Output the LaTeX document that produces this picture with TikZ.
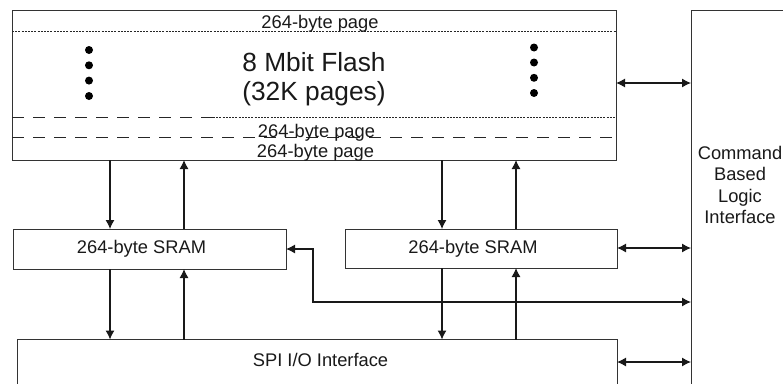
\documentclass[tikz,border=0pt]{standalone}
\usepackage{fontspec}
\setmainfont{Liberation Sans}
\usetikzlibrary{arrows.meta}
\begin{document}
\begin{tikzpicture}[x=1pt,y=-1pt,
  box/.style={draw=black!80, line width=1pt, inner sep=0pt, outer sep=0pt, rectangle},
  lbl/.style={font=\fontsize{18.3}{21.3}\selectfont, inner sep=0pt, text=black!90},
  big/.style={font=\fontsize{26.3}{29}\selectfont, inner sep=0pt, text=black!90},
  conn/.style={line width=1.1pt, draw=black!90},
  arr/.style={conn, -{Latex[length=9pt,width=9pt]}},
  darr/.style={conn, {Latex[length=9pt,width=9pt]}-{Latex[length=9pt,width=9pt]}},
  fine/.style={line width=0.8pt, draw=black!85, dash pattern=on 2pt off 1.2pt},
  longdash/.style={line width=0.8pt, draw=black!85, dash pattern=on 12pt off 9pt},
  blob/.style={circle, fill=black, inner sep=0pt, minimum size=8pt}
]
\useasboundingbox (0,0) rectangle (783,383);
\clip (0,0) rectangle (783,383);

% boxes
\node[box, minimum width=604pt, minimum height=150pt] (flash) at (314,85) {};
\node[box, minimum width=273pt, minimum height=40pt] (sram1) at (149.5,249) {};
\node[box, minimum width=272pt, minimum height=39pt] (sram2) at (481,248.5) {};
\node[box, minimum width=599.5pt, minimum height=55.5pt] (spi) at (317.25,367.25) {};
\node[box, minimum width=109pt, minimum height=390pt] (cmd) at (745.5,205) {};

% page separators inside flash
\draw[fine] (12,31.5) -- (616,31.5);
\draw[longdash] (12,117) -- (213,117);
\draw[fine] (213,117) -- (616,117);
\draw[longdash] (12,137) -- (616,137);

% labels
\node[lbl, anchor=base] (p1) at (320,28) {264-byte page};
\node[lbl, anchor=base] (p2) at (316.5,137) {264-byte page};
\node[lbl, anchor=base] (p3) at (315.5,157) {264-byte page};
\node[big, anchor=base] (t1) at (314,71) {8 Mbit Flash};
\node[big, anchor=base] (t2) at (314,100) {(32K pages)};
\node[lbl] (s1) at (141.5,248.5) {264-byte SRAM};
\node[lbl] (s2) at (473,248.5) {264-byte SRAM};
\node[lbl] (spit) at (320.5,360) {SPI I/O Interface};
\node[lbl, align=center] (cmdt) at (740,185) {Command\\Based\\Logic\\Interface};

% dots
\foreach \y [count=\i] in {50,65.3,80.6,96} \node[blob] (dl\i) at (89,\y) {};
\foreach \y [count=\i] in {47.5,62.5,77.8,93} \node[blob] (dr\i) at (534,\y) {};

% connector coordinates
\coordinate (c1) at (110,0);
\coordinate (c2) at (184,0);
\coordinate (c3) at (442,0);
\coordinate (c4) at (516,0);
\coordinate (r1) at (0,83);
\coordinate (r2) at (0,248);
\coordinate (r4) at (0,362);
\coordinate (b) at (313,302);

% vertical connectors
\draw[arr] (flash.south -| c1) -- (sram1.north -| c1);
\draw[arr] (sram1.north -| c2) -- (flash.south -| c2);
\draw[arr] (sram1.south -| c1) -- (spi.north -| c1);
\draw[arr] (spi.north -| c2) -- (sram1.south -| c2);
\draw[arr] (flash.south -| c3) -- (sram2.north -| c3);
\draw[arr] (sram2.north -| c4) -- (flash.south -| c4);
\draw[arr] (sram2.south -| c3) -- (spi.north -| c3);
\draw[arr] (spi.north -| c4) -- (sram2.south -| c4);

% horizontal connectors
\draw[darr] (flash.east |- r1) -- (cmd.west |- r1);
\draw[darr] (sram2.east |- r2) -- (cmd.west |- r2);
\draw[darr] (spi.east |- r4) -- (cmd.west |- r4);
\draw[darr] (sram1.east) -| (b) -- (cmd.west |- b);
\end{tikzpicture}
\end{document}
